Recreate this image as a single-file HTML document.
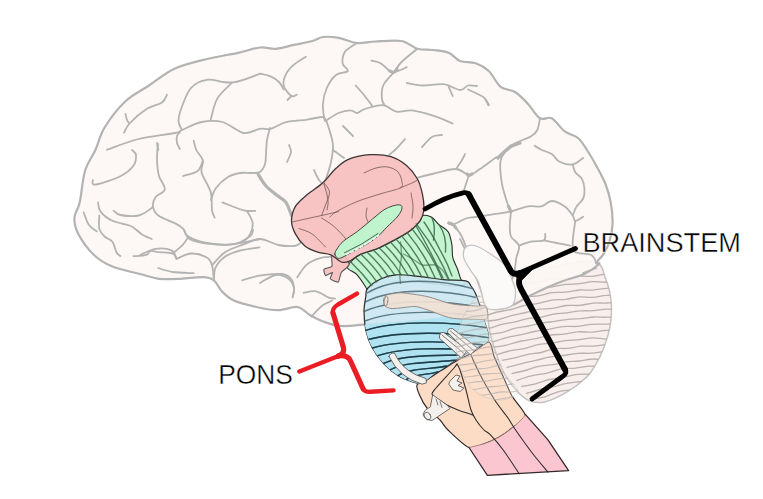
<!DOCTYPE html>
<html lang="en"><head><meta charset="utf-8"><title>Brainstem and Pons</title>
<style>
html,body{margin:0;padding:0;background:#fff;}
body{width:763px;height:499px;overflow:hidden;font-family:"Liberation Sans",sans-serif;}
svg{display:block}
</style></head><body>
<svg width="763" height="499" viewBox="0 0 763 499">
<rect width="763" height="499" fill="#fff"/>
<defs><clipPath id="cbclip"><path d="M599.0 264.0C603.2 266.5 603.2 272.5 605.0 277.0C606.8 281.5 608.4 285.9 609.5 291.0C610.6 296.1 611.4 301.5 611.5 307.4C611.6 313.3 611.2 320.2 610.0 326.6C608.8 333.0 606.8 339.7 604.5 345.9C602.2 352.1 599.0 358.8 596.0 364.0C593.0 369.2 591.8 372.2 586.8 377.0C581.8 381.8 572.8 388.6 565.8 392.7C558.8 396.8 550.9 400.6 544.8 401.9C538.7 403.2 533.8 402.6 529.0 400.6C524.2 398.6 520.3 394.8 516.0 390.0C511.7 385.2 506.5 378.2 503.0 371.7C499.5 365.2 497.2 357.4 495.0 350.8C492.8 344.2 491.3 339.6 489.8 332.4C488.3 325.2 487.6 314.5 486.0 307.4C484.4 300.3 477.7 294.6 480.0 290.0C482.3 285.4 490.0 283.3 500.0 280.0C510.0 276.7 526.7 273.0 540.0 270.0C553.3 267.0 570.2 263.0 580.0 262.0C589.8 261.0 594.8 261.5 599.0 264.0Z"/></clipPath></defs><g id="cerebellum"><path d="M599.0 264.0C603.2 266.5 603.2 272.5 605.0 277.0C606.8 281.5 608.4 285.9 609.5 291.0C610.6 296.1 611.4 301.5 611.5 307.4C611.6 313.3 611.2 320.2 610.0 326.6C608.8 333.0 606.8 339.7 604.5 345.9C602.2 352.1 599.0 358.8 596.0 364.0C593.0 369.2 591.8 372.2 586.8 377.0C581.8 381.8 572.8 388.6 565.8 392.7C558.8 396.8 550.9 400.6 544.8 401.9C538.7 403.2 533.8 402.6 529.0 400.6C524.2 398.6 520.3 394.8 516.0 390.0C511.7 385.2 506.5 378.2 503.0 371.7C499.5 365.2 497.2 357.4 495.0 350.8C492.8 344.2 491.3 339.6 489.8 332.4C488.3 325.2 487.6 314.5 486.0 307.4C484.4 300.3 477.7 294.6 480.0 290.0C482.3 285.4 490.0 283.3 500.0 280.0C510.0 276.7 526.7 273.0 540.0 270.0C553.3 267.0 570.2 263.0 580.0 262.0C589.8 261.0 594.8 261.5 599.0 264.0Z" fill="#f8eeeb" stroke="#c2c2c2" stroke-width="1.5"/><g fill="none" stroke="#b9b1ae" stroke-width="1.3" clip-path="url(#cbclip)"><path d="M470.0 295.5C472.3 295.1 479.1 294.2 483.6 293.2C488.2 292.2 492.7 290.5 497.3 289.5C501.8 288.4 506.4 288.0 510.9 287.0C515.5 286.0 520.0 284.3 524.5 283.5C529.1 282.6 533.6 282.8 538.2 282.1C542.7 281.3 547.3 279.5 551.8 278.8C556.4 278.2 560.9 278.8 565.5 278.4C570.0 277.9 574.5 276.6 579.1 276.3C583.6 275.9 588.2 276.6 592.7 276.3C597.3 275.9 601.8 274.3 606.4 274.0C610.9 273.6 617.7 274.2 620.0 274.3"/><path d="M470.0 302.6C472.3 302.0 479.1 300.1 483.6 299.1C488.2 298.1 492.7 297.9 497.3 296.8C501.8 295.7 506.4 293.3 510.9 292.4C515.5 291.6 520.0 292.2 524.5 291.5C529.1 290.8 533.6 289.0 538.2 288.2C542.7 287.5 547.3 287.6 551.8 286.9C556.4 286.3 560.9 285.0 565.5 284.4C570.0 283.9 574.5 284.2 579.1 283.7C583.6 283.2 588.2 282.0 592.7 281.7C597.3 281.5 601.8 282.5 606.4 282.2C610.9 282.0 617.7 280.6 620.0 280.3"/><path d="M470.0 308.3C472.3 307.9 479.1 307.1 483.6 306.1C488.2 305.0 492.7 302.9 497.3 302.0C501.8 301.0 506.4 301.2 510.9 300.3C515.5 299.5 520.0 297.6 524.5 296.8C529.1 296.1 533.6 296.5 538.2 295.8C542.7 295.1 547.3 293.3 551.8 292.7C556.4 292.2 560.9 292.7 565.5 292.2C570.0 291.8 574.5 290.4 579.1 290.0C583.6 289.6 588.2 290.4 592.7 290.1C597.3 289.8 601.8 288.6 606.4 288.3C610.9 288.0 617.7 288.4 620.0 288.4"/><path d="M483.6 316.3C485.9 315.6 492.7 313.2 497.3 312.0C501.8 310.9 506.4 310.6 510.9 309.5C515.5 308.4 520.0 306.5 524.6 305.5C529.1 304.5 533.6 304.3 538.2 303.4C542.7 302.5 547.3 300.9 551.8 300.2C556.4 299.5 560.9 299.9 565.5 299.4C570.0 298.8 574.6 297.2 579.1 296.9C583.6 296.6 588.2 297.6 592.7 297.3C597.3 297.1 601.8 295.6 606.4 295.4C610.9 295.1 617.7 295.9 620.0 296.0"/><path d="M485.6 321.5C487.8 321.1 494.6 320.5 499.0 319.5C503.5 318.4 508.0 316.4 512.5 315.3C517.0 314.1 521.4 313.5 525.9 312.5C530.4 311.5 534.9 309.9 539.4 309.2C543.8 308.5 548.3 309.1 552.8 308.4C557.3 307.8 561.8 306.0 566.2 305.5C570.7 304.9 575.2 305.8 579.7 305.4C584.2 305.0 588.6 303.5 593.1 303.1C597.6 302.7 602.1 303.2 606.6 303.0C611.0 302.8 617.8 302.2 620.0 302.0"/><path d="M487.6 329.2C489.8 328.4 496.4 325.7 500.8 324.6C505.2 323.4 509.6 323.2 514.0 322.2C518.5 321.2 522.9 319.3 527.3 318.6C531.7 317.8 536.1 318.1 540.5 317.4C544.9 316.7 549.4 315.0 553.8 314.2C558.2 313.5 562.6 313.5 567.0 312.9C571.4 312.4 575.9 311.2 580.3 310.9C584.7 310.5 589.1 311.0 593.5 310.7C597.9 310.4 602.3 309.2 606.8 309.1C611.2 309.0 617.8 310.0 620.0 310.1"/><path d="M489.5 334.3C491.7 334.0 498.2 333.3 502.6 332.3C506.9 331.2 511.2 329.2 515.6 328.2C520.0 327.1 524.3 326.9 528.6 326.0C533.0 325.2 537.4 323.8 541.7 323.1C546.1 322.3 550.4 322.0 554.8 321.4C559.1 320.8 563.4 319.8 567.8 319.3C572.1 318.8 576.5 318.9 580.9 318.6C585.2 318.2 589.5 317.3 593.9 317.0C598.2 316.8 602.6 317.4 607.0 317.2C611.3 317.0 617.8 316.1 620.0 315.9"/><path d="M491.4 342.3C493.8 341.6 501.0 339.0 505.7 337.8C510.5 336.5 515.3 336.0 520.0 334.9C524.8 333.9 529.5 332.4 534.3 331.5C539.1 330.6 543.8 330.1 548.6 329.3C553.3 328.5 558.1 327.1 562.9 326.6C567.6 326.1 572.4 326.8 577.1 326.4C581.9 326.0 586.7 324.7 591.4 324.3C596.2 324.0 601.0 324.3 605.7 324.2C610.5 324.0 617.6 323.6 620.0 323.5"/><path d="M493.4 347.3C495.7 346.9 502.8 345.8 507.5 344.8C512.2 343.7 516.8 342.1 521.5 341.0C526.2 340.0 530.9 339.6 535.6 338.6C540.3 337.7 545.0 336.0 549.7 335.3C554.4 334.5 559.0 334.6 563.7 334.1C568.4 333.5 573.1 332.1 577.8 331.8C582.5 331.5 587.2 332.4 591.9 332.2C596.6 331.9 601.2 330.6 605.9 330.4C610.6 330.3 617.7 331.1 620.0 331.2"/><path d="M496.9 354.8C499.2 354.1 506.0 351.6 510.6 350.6C515.1 349.6 519.7 349.7 524.2 348.7C528.8 347.7 533.4 345.5 537.9 344.6C542.5 343.6 547.0 343.8 551.6 343.1C556.2 342.5 560.7 341.2 565.3 340.6C569.8 340.0 574.4 340.1 579.0 339.6C583.5 339.2 588.1 338.0 592.6 337.9C597.2 337.7 601.8 338.9 606.3 338.9C610.9 338.8 617.7 337.8 620.0 337.6"/><path d="M501.8 360.3C503.9 359.9 510.5 358.9 514.9 357.9C519.3 356.9 523.6 355.2 528.0 354.3C532.4 353.4 536.8 353.4 541.2 352.5C545.5 351.6 549.9 349.4 554.3 348.7C558.7 348.0 563.1 348.8 567.4 348.4C571.8 348.0 576.2 346.6 580.6 346.2C585.0 345.8 589.3 346.3 593.7 346.1C598.1 345.8 602.5 344.8 606.9 344.6C611.2 344.4 617.8 344.9 620.0 345.0"/><path d="M506.6 367.6C509.0 366.9 516.1 364.9 520.8 363.8C525.5 362.6 530.2 361.8 535.0 360.7C539.7 359.6 544.4 358.1 549.1 357.2C553.9 356.4 558.6 356.1 563.3 355.5C568.0 354.8 572.8 353.8 577.5 353.4C582.2 353.0 586.9 353.5 591.7 353.2C596.4 352.9 601.1 351.7 605.8 351.5C610.6 351.4 617.6 352.0 620.0 352.1"/><path d="M511.5 373.7C513.8 373.2 520.5 371.7 525.1 370.5C529.6 369.3 534.1 367.4 538.6 366.4C543.1 365.4 547.7 365.5 552.2 364.7C556.7 364.0 561.2 362.5 565.8 361.8C570.3 361.2 574.8 361.5 579.3 361.0C583.8 360.5 588.4 359.1 592.9 359.0C597.4 358.8 601.9 360.1 606.4 360.0C611.0 359.9 617.7 358.6 620.0 358.3"/><path d="M516.4 380.6C518.8 379.8 526.2 377.1 531.2 375.9C536.1 374.6 541.0 374.4 546.0 373.3C550.9 372.2 555.9 370.0 560.8 369.1C565.7 368.3 570.7 368.6 575.6 368.1C580.5 367.6 585.5 366.4 590.4 366.1C595.3 365.9 600.3 366.8 605.2 366.7C610.1 366.6 617.5 365.6 620.0 365.4"/><path d="M521.2 386.4C523.6 386.0 530.7 385.0 535.4 383.8C540.1 382.7 544.8 380.6 549.5 379.5C554.2 378.4 558.9 378.1 563.6 377.3C568.3 376.4 573.0 374.9 577.7 374.4C582.4 373.9 587.1 374.5 591.8 374.1C596.5 373.8 601.2 372.6 605.9 372.5C610.6 372.3 617.6 373.1 620.0 373.3"/><path d="M526.1 393.6C528.4 392.9 535.1 390.7 539.5 389.5C544.0 388.4 548.5 387.8 552.9 386.8C557.4 385.8 561.9 384.2 566.4 383.4C570.8 382.5 575.3 382.2 579.8 381.6C584.2 381.1 588.7 380.4 593.2 380.2C597.6 380.0 602.1 380.7 606.6 380.6C611.1 380.6 617.8 380.1 620.0 380.0"/><path d="M531.0 399.4C533.5 398.9 540.9 397.9 545.8 396.5C550.8 395.1 555.7 392.2 560.7 391.1C565.6 390.0 570.6 390.3 575.5 389.7C580.4 389.1 585.4 387.7 590.3 387.4C595.3 387.1 600.2 388.0 605.2 388.0C610.1 387.9 617.5 387.2 620.0 387.1"/><path d="M535.9 407.1C538.2 406.3 545.2 403.3 549.9 402.0C554.6 400.7 559.2 400.5 563.9 399.4C568.6 398.3 573.3 396.1 577.9 395.4C582.6 394.7 587.3 395.4 592.0 395.2C596.6 394.9 601.3 394.1 606.0 394.1C610.7 394.1 617.7 395.0 620.0 395.2"/><path d="M540.8 412.5C543.0 412.0 549.6 410.7 554.0 409.5C558.4 408.3 562.8 406.2 567.2 405.1C571.6 404.1 576.0 403.9 580.4 403.3C584.8 402.6 589.2 401.4 593.6 401.1C598.0 400.8 602.4 401.5 606.8 401.5C611.2 401.6 617.8 401.2 620.0 401.1"/><path d="M545.6 420.0C548.1 419.0 555.5 415.3 560.5 413.9C565.5 412.5 570.4 412.3 575.4 411.4C580.3 410.6 585.3 409.1 590.2 408.6C595.2 408.2 600.2 408.9 605.1 408.9C610.1 408.9 617.5 408.4 620.0 408.3"/></g></g>
<g id="cerebrum"><path d="M140.0 274.0C132.2 272.0 120.1 269.8 112.4 266.6C104.7 263.4 99.7 260.4 94.0 255.0C88.3 249.6 81.6 240.2 78.3 234.0C75.0 227.8 74.2 223.3 74.4 218.0C74.6 212.7 77.9 210.2 79.7 202.4C81.5 194.6 82.4 179.7 85.0 171.0C87.6 162.3 92.1 157.2 95.4 150.0C98.7 142.8 99.6 135.6 104.6 127.5C109.6 119.4 118.1 108.3 125.5 101.3C132.9 94.3 140.8 91.0 149.0 85.5C157.2 80.0 165.3 72.9 175.0 68.5C184.7 64.1 196.5 61.6 207.0 59.0C217.5 56.4 229.2 54.7 238.0 52.8C246.8 50.9 253.7 48.2 260.0 47.5C266.3 46.8 270.0 49.2 275.7 48.8C281.4 48.4 287.9 46.2 294.0 44.9C300.1 43.6 307.6 42.3 312.4 41.0C317.2 39.7 318.5 37.5 322.9 37.0C327.3 36.5 332.9 36.8 338.6 37.8C344.3 38.8 350.9 42.4 357.0 43.0C363.1 43.6 367.9 41.8 375.3 41.5C382.7 41.2 394.5 39.8 401.5 41.0C408.5 42.2 412.1 47.3 417.3 48.8C422.6 50.3 427.8 49.3 433.0 50.0C438.2 50.7 444.2 51.0 448.7 52.8C453.2 54.6 455.5 59.2 460.0 61.0C464.5 62.8 470.9 61.6 475.7 63.3C480.5 65.0 484.6 67.1 488.8 71.0C493.0 74.9 496.2 83.3 500.6 86.8C505.0 90.3 510.4 89.2 515.0 92.0C519.6 94.8 523.8 99.5 528.0 103.9C532.2 108.3 536.0 115.9 540.0 118.3C544.0 120.7 547.6 116.1 551.7 118.3C555.8 120.5 560.4 128.1 564.8 131.4C569.2 134.7 574.3 134.9 578.0 138.0C581.7 141.1 584.0 145.4 587.0 150.0C590.0 154.6 593.2 160.0 596.3 165.7C599.4 171.4 603.1 177.9 605.5 184.0C607.9 190.1 609.5 195.8 610.7 202.4C611.9 209.0 612.8 216.9 612.6 223.4C612.4 229.9 611.0 236.5 609.4 241.7C607.8 246.9 605.1 251.3 602.9 254.8C600.7 258.3 596.9 261.2 596.3 262.7C595.6 264.2 600.9 262.2 599.0 264.0C597.1 265.8 590.7 270.9 584.7 273.7C578.7 276.5 569.5 278.6 563.0 281.0C556.5 283.4 551.6 285.5 546.0 288.0C540.4 290.5 535.0 293.2 529.4 296.0C523.8 298.8 517.8 302.8 512.6 305.0C507.4 307.2 502.4 308.6 498.0 309.0C493.6 309.4 490.7 308.2 486.0 307.4C481.3 306.6 477.7 302.2 470.0 304.0C462.3 305.8 451.7 315.0 440.0 318.0C428.3 321.0 412.2 320.9 400.0 322.0C387.8 323.1 376.3 323.7 366.5 324.4C356.7 325.1 348.7 326.5 341.3 326.0C333.9 325.5 327.6 323.0 322.4 321.2C317.2 319.4 314.1 317.4 309.9 315.0C305.7 312.6 302.6 307.8 297.3 307.0C292.1 306.2 285.2 310.2 278.4 310.2C271.6 310.2 263.7 308.6 256.4 307.0C249.1 305.4 240.2 303.4 234.4 300.8C228.6 298.2 225.2 294.7 221.8 291.3C218.4 287.9 217.1 282.7 213.9 280.3C210.8 277.9 208.4 277.4 202.9 277.2C197.4 276.9 188.2 278.5 180.9 278.8C173.6 279.1 165.7 279.6 158.9 278.8C152.1 278.0 147.8 276.0 140.0 274.0Z" fill="#fdf8f4" fill-opacity="0.93" stroke="#b3b3b3" stroke-width="2.2" stroke-linejoin="round"/><g fill="none" stroke="#b3b3b3" stroke-width="1.8" stroke-linecap="round" stroke-linejoin="round"><path d="M124.0 132.7C124.9 131.2 125.8 127.5 129.5 123.5C133.2 119.5 141.1 112.5 146.5 109.0C151.9 105.5 158.6 104.9 162.0 102.5C165.4 100.1 166.2 96.0 167.0 94.7"/><path d="M125.5 114.0C125.8 115.0 126.3 118.4 127.0 120.0C127.7 121.6 129.1 122.9 129.5 123.5"/><path d="M260.0 73.7C255.5 75.2 241.9 81.4 233.0 82.4C224.1 83.4 213.8 78.9 206.8 79.8C199.8 80.7 195.1 83.5 191.0 88.0C186.9 92.5 184.1 101.0 182.0 106.5C179.9 112.0 178.5 117.1 178.5 121.0C178.5 124.9 181.4 128.5 182.0 130.0"/><path d="M231.7 83.0C229.3 85.6 220.8 92.5 217.3 98.6C213.8 104.7 211.8 116.1 210.7 119.6"/><path d="M107.0 149.7C112.3 147.9 127.3 141.8 138.6 139.0C149.9 136.2 167.8 134.5 175.0 133.0C182.2 131.5 177.6 131.8 182.0 130.0C186.4 128.2 194.8 123.3 201.5 122.0C208.2 120.7 215.5 120.2 222.5 122.0C229.5 123.8 237.2 131.9 243.5 133.0C249.8 134.1 255.5 129.5 260.0 128.8C264.5 128.1 266.1 129.9 270.5 128.8C274.9 127.7 280.1 123.7 286.2 122.2C292.3 120.7 301.1 120.5 307.2 119.6C313.3 118.7 319.8 116.8 322.9 117.0C325.9 117.2 325.1 120.3 325.5 121.0"/><path d="M180.0 132.0C179.5 132.7 177.5 134.2 177.0 136.0C176.5 137.8 176.5 140.8 177.0 143.0C177.5 145.2 179.5 148.0 180.0 149.0"/><path d="M158.0 144.0C157.8 146.7 156.8 154.7 157.0 160.0C157.2 165.3 157.7 171.1 159.0 176.0C160.3 180.9 165.4 185.8 164.8 189.3C164.2 192.8 157.7 194.2 155.7 197.0C153.7 199.8 152.6 203.3 153.0 206.4C153.4 209.5 154.6 212.7 158.3 215.5C162.0 218.3 171.2 221.2 175.3 223.4C179.4 225.6 180.8 226.4 183.0 228.6C185.2 230.8 184.4 234.1 188.4 236.5C192.4 238.9 199.8 241.7 206.8 243.0C213.8 244.3 221.5 245.1 230.4 244.4C239.3 243.7 255.1 239.9 260.0 239.0"/><path d="M193.7 140.6C194.1 142.2 194.8 146.7 196.3 150.0C197.8 153.3 202.0 156.8 202.9 160.5C203.8 164.2 200.2 167.1 201.5 172.3C202.8 177.6 208.9 185.7 210.7 192.0C212.4 198.3 211.3 206.0 212.0 210.3C212.7 214.6 214.2 216.4 214.7 217.6"/><path d="M202.9 160.5C202.0 162.2 200.9 168.4 197.6 171.0C194.3 173.6 185.4 175.2 183.0 176.0"/><path d="M157.0 143.0L158.3 150.0"/><path d="M92.8 180.0C93.2 180.8 90.8 185.2 95.4 184.6C100.0 184.0 114.0 179.3 120.3 176.2C126.6 173.0 130.8 169.2 133.4 165.7C136.0 162.2 136.2 157.6 136.0 155.0C135.8 152.4 132.7 150.8 132.0 150.0"/><path d="M211.0 200.0C211.8 198.0 213.2 191.8 216.0 188.0C218.8 184.2 224.0 179.5 228.0 177.0C232.0 174.5 236.0 173.7 240.0 173.0C244.0 172.3 248.7 173.2 252.0 173.0C255.3 172.8 257.8 173.5 260.0 172.0C262.2 170.5 264.0 167.0 265.0 164.0C266.0 161.0 265.7 158.0 266.0 154.0C266.3 150.0 266.3 144.3 267.0 140.0C267.7 135.7 269.5 130.0 270.0 128.0"/><path d="M222.5 202.4C226.0 203.7 238.0 208.9 243.5 210.3C249.0 211.7 253.3 210.7 255.3 210.8"/><path d="M247.4 211.6C248.3 213.6 252.5 219.2 252.7 223.4C252.9 227.6 250.8 233.2 248.7 236.5C246.6 239.8 241.4 241.9 240.0 243.0"/><path d="M98.0 202.4C98.4 203.9 98.2 208.5 100.6 211.6C103.0 214.7 107.4 218.4 112.4 220.8C117.4 223.2 126.0 223.8 130.8 226.0C135.6 228.2 137.8 231.7 141.3 233.9C144.8 236.1 150.0 238.2 151.7 239.0"/><path d="M113.7 210.8C114.8 211.5 116.2 214.2 120.3 215.0C124.4 215.8 133.6 216.5 138.6 215.5C143.6 214.5 148.0 210.5 150.4 209.0C152.8 207.5 152.6 206.8 153.0 206.4"/><path d="M83.6 212.4C84.5 214.4 86.6 221.5 88.8 224.7C91.0 227.8 95.4 230.2 96.7 231.3"/><path d="M99.3 215.5C99.3 217.7 98.4 225.1 99.3 228.6C100.2 232.1 102.4 234.3 104.6 236.5C106.8 238.7 110.4 239.1 112.4 241.7C114.4 244.3 115.1 249.8 116.4 252.2C117.7 254.6 119.7 255.4 120.3 256.0"/><path d="M133.4 256.2C135.6 256.0 143.7 255.7 146.5 254.8C149.3 253.9 148.2 251.4 150.4 251.0C152.6 250.6 155.9 251.8 159.6 252.2C163.3 252.6 169.9 252.4 172.7 253.5C175.5 254.6 175.9 257.9 176.6 258.8"/><path d="M172.7 253.5C174.4 252.0 180.6 247.2 183.2 244.4C185.8 241.6 187.5 237.8 188.4 236.5"/><path d="M176.6 258.8C179.0 257.9 186.0 253.7 191.0 253.5C196.0 253.3 203.3 255.5 206.8 257.5C210.3 259.5 210.8 261.5 212.0 265.3C213.2 269.1 213.6 277.8 213.9 280.3"/><path d="M212.0 265.3C214.2 263.1 219.8 255.7 225.0 252.2C230.2 248.7 237.7 246.6 243.5 244.4C249.3 242.2 254.2 238.9 260.0 239.0C265.8 239.1 272.7 243.8 278.4 245.0C284.1 246.2 290.4 246.3 294.1 246.0C297.8 245.7 299.3 243.5 300.4 243.0"/><path d="M158.3 268.0C160.7 268.7 166.8 271.1 172.7 272.0C178.6 272.9 190.2 273.0 193.7 273.2"/><path d="M357.0 43.0C355.0 44.4 347.6 48.1 345.2 51.5C342.8 54.9 342.2 60.0 342.6 63.3C343.0 66.5 348.9 69.0 347.8 71.0C346.7 73.0 339.5 72.2 336.0 75.0C332.5 77.8 329.0 83.2 326.8 88.0C324.6 92.8 323.3 98.9 322.9 103.9C322.5 109.0 323.8 115.5 324.2 118.3C324.6 121.1 325.3 120.5 325.5 121.0"/><path d="M305.9 56.7C303.9 58.0 297.3 61.8 294.0 64.6C290.7 67.4 287.9 70.2 286.2 73.7C284.5 77.2 282.7 81.8 283.6 85.5C284.5 89.2 289.3 94.5 291.5 96.0C293.7 97.5 295.8 94.9 296.7 94.7"/><path d="M291.5 96.0L287.5 100.0"/><path d="M260.0 73.7C261.8 74.2 267.3 75.0 270.5 76.4C273.7 77.8 276.8 79.8 279.0 82.0C281.2 84.2 282.8 88.2 283.6 89.5"/><path d="M417.3 48.8C414.7 51.0 405.4 58.1 401.5 62.0C397.6 65.9 396.8 68.5 393.7 72.4C390.6 76.3 385.2 81.1 383.2 85.5C381.2 89.9 381.7 95.3 381.9 98.6C382.1 101.9 384.1 104.1 384.5 105.2"/><path d="M371.4 60.6C372.9 61.0 377.6 61.6 380.6 63.3C383.7 65.0 387.5 69.5 389.7 71.0C391.9 72.5 390.8 73.0 393.7 72.4C396.6 71.8 404.6 68.1 406.8 67.2"/><path d="M355.7 85.5C357.2 87.2 362.0 92.5 364.8 96.0C367.6 99.5 371.4 104.8 372.7 106.5"/><path d="M325.5 121.0C327.7 119.7 334.5 114.8 338.6 113.0C342.8 111.2 347.3 110.4 350.4 110.4C353.5 110.4 354.6 113.2 357.0 113.0C359.4 112.8 360.4 110.3 364.8 109.0C369.2 107.7 377.9 104.8 383.2 105.2C388.4 105.7 391.5 110.8 396.3 111.7C401.1 112.6 405.9 109.7 412.0 110.4C418.1 111.1 426.2 113.5 433.0 115.7C439.8 117.9 449.4 122.2 452.7 123.5"/><path d="M406.8 83.0C409.4 83.4 416.4 85.3 422.5 85.5C428.6 85.7 437.2 83.5 443.5 84.2C449.8 85.0 455.9 89.8 460.0 90.0C464.1 90.2 465.1 86.2 467.9 85.5C470.7 84.8 475.5 85.9 477.0 86.0"/><path d="M448.7 86.8L452.7 96.0"/><path d="M468.0 89.5C470.6 90.8 480.2 94.7 483.6 97.3C487.0 99.9 487.5 103.9 488.3 105.2"/><path d="M326.0 120.0C326.7 122.0 328.8 127.7 330.0 132.0C331.2 136.3 332.8 141.0 333.0 146.0C333.2 151.0 332.0 157.0 331.0 162.0C330.0 167.0 328.2 172.3 327.0 176.0C325.8 179.7 324.5 182.7 324.0 184.0"/><path d="M333.0 150.0L344.0 158.0"/><path d="M314.0 170.0C314.8 171.7 317.0 177.0 319.0 180.0C321.0 183.0 324.5 184.7 326.0 188.0C327.5 191.3 327.7 198.0 328.0 200.0"/><path d="M343.0 126.0L353.0 136.0"/><path d="M405.0 139.0C403.5 140.7 398.7 146.3 396.0 149.0C393.3 151.7 390.2 154.0 389.0 155.0"/><path d="M442.0 135.0C440.3 135.3 435.3 135.0 432.0 137.0C428.7 139.0 423.7 145.3 422.0 147.0"/><path d="M289.0 145.0C289.3 146.2 291.3 149.2 291.0 152.0C290.7 154.8 287.7 160.3 287.0 162.0"/><path d="M540.0 118.3C539.5 120.2 538.8 127.0 537.3 130.0C535.8 133.1 534.5 134.4 530.8 136.6C527.1 138.8 518.9 141.0 515.0 143.2C511.1 145.4 509.6 146.8 507.2 149.7C504.8 152.6 501.5 154.8 500.6 160.5C499.7 166.2 500.7 176.3 502.0 184.0C503.3 191.7 507.0 201.8 508.5 206.4C510.0 211.0 510.6 210.7 511.0 211.6"/><path d="M534.7 145.8C535.8 146.5 538.5 148.3 541.3 149.7C544.1 151.1 548.7 152.0 551.7 154.0C554.8 156.0 556.1 160.1 559.6 161.8C563.1 163.5 568.8 165.1 572.7 164.4C576.6 163.8 581.5 159.0 583.2 157.9"/><path d="M572.7 164.4C573.1 165.7 573.8 169.9 575.3 172.3C576.8 174.7 580.4 176.0 581.9 178.8C583.4 181.6 584.3 186.0 584.5 189.3C584.7 192.6 584.5 195.7 583.2 198.5C581.9 201.3 578.4 203.6 576.6 206.4C574.9 209.2 573.4 214.0 572.7 215.5"/><path d="M500.0 157.0C499.3 157.1 499.3 155.5 496.0 157.5C492.7 159.5 484.5 166.1 480.0 169.0C475.5 171.9 473.0 175.0 469.0 175.0C465.0 175.0 462.2 169.2 456.0 169.0C449.8 168.8 438.7 172.5 432.0 174.0C425.3 175.5 418.7 177.3 416.0 178.0"/><path d="M456.0 169.0C457.0 167.5 460.5 162.5 462.0 160.0C463.5 157.5 464.5 155.0 465.0 154.0"/><path d="M486.0 100.0L489.0 105.0"/><path d="M469.0 175.0C468.5 176.5 466.8 181.5 466.0 184.0C465.2 186.5 464.3 189.0 464.0 190.0"/><path d="M511.0 211.6C508.2 212.0 499.9 213.3 494.0 214.2C488.1 215.1 480.4 216.3 475.7 217.0C471.0 217.7 469.8 217.2 466.0 218.5C462.2 219.8 456.0 223.8 453.0 224.5C450.0 225.2 448.8 223.2 448.0 223.0"/><path d="M453.0 224.5C454.3 226.2 458.8 231.2 461.0 235.0C463.2 238.8 465.2 245.0 466.0 247.0"/><path d="M511.0 211.6C513.8 210.7 523.0 207.3 528.0 206.4C533.0 205.5 537.3 207.3 541.3 206.4C545.2 205.5 547.8 201.0 551.7 201.0C555.6 201.0 561.3 204.0 564.8 206.4C568.3 208.8 571.0 213.1 572.7 215.5C574.5 217.9 573.5 220.6 575.3 220.8C577.0 221.0 581.9 217.5 583.2 216.8"/><path d="M511.0 211.6C510.8 214.0 509.8 221.8 509.8 226.0C509.8 230.2 509.5 233.2 511.0 236.5C512.5 239.8 518.1 242.2 519.0 245.7C519.9 249.2 517.1 253.8 516.4 257.5C515.7 261.2 515.7 264.2 515.0 268.0C514.3 271.8 512.5 278.0 512.0 280.0"/><path d="M519.0 245.7C521.0 245.0 526.6 242.6 530.8 241.7C534.9 240.8 541.5 241.7 543.9 240.4C546.3 239.1 545.0 235.0 545.2 233.9"/><path d="M543.9 240.4C546.1 240.8 552.6 242.1 557.0 243.0C561.4 243.9 567.8 245.2 570.0 245.7"/><path d="M575.3 220.8C574.9 224.3 572.8 236.5 572.7 241.7C572.7 246.9 572.0 249.8 575.0 252.0C578.0 254.2 587.5 253.0 591.0 254.8C594.5 256.6 595.4 261.4 596.3 262.7"/><path d="M460.0 239.0C460.9 240.8 463.4 245.7 465.2 249.6C466.9 253.5 468.3 257.0 470.5 262.7C472.7 268.4 475.9 276.9 478.6 284.0C481.3 291.1 485.2 301.5 486.5 305.0"/><path d="M583.0 273.0L596.0 268.0"/><path d="M140.0 255.0C142.6 254.0 150.4 249.7 155.7 248.9C160.9 248.1 168.1 248.8 171.5 250.4C174.9 252.0 175.4 257.0 176.2 258.3"/><path d="M184.0 230.0C185.1 231.6 185.6 237.0 190.3 239.4C195.0 241.8 205.0 243.4 212.3 244.2C219.7 245.0 228.1 245.5 234.4 244.2C240.7 242.9 246.9 238.7 250.0 236.3C253.1 233.9 252.7 231.1 253.2 230.0"/><path d="M242.2 280.3C245.1 279.5 252.9 276.7 259.5 275.6C266.1 274.6 276.2 273.5 281.5 274.0C286.8 274.5 288.9 276.4 291.0 278.8C293.1 281.2 293.8 285.1 294.1 288.2C294.4 291.3 292.9 296.0 292.6 297.6"/><path d="M297.3 277.2C298.9 275.1 303.0 267.8 306.7 264.6C310.4 261.5 315.1 259.6 319.3 258.3C323.5 257.0 329.9 257.0 332.0 256.7"/><path d="M303.6 292.9C305.7 292.6 312.0 290.5 316.2 291.3C320.4 292.1 325.6 296.4 328.7 297.6C331.8 298.8 333.9 298.4 335.0 298.6"/><path d="M311.4 316.5C313.2 314.7 319.0 308.1 322.4 305.5C325.8 302.9 330.3 301.6 331.9 300.8"/><path d="M213.9 280.3C214.2 278.2 213.7 271.6 215.5 267.7C217.3 263.8 220.7 259.6 224.9 256.7C229.1 253.8 234.9 252.0 240.7 250.4C246.5 248.8 256.4 247.8 259.5 247.3"/><path d="M260.0 283.0C262.6 281.7 270.9 275.7 275.7 275.0C280.5 274.3 285.8 276.8 288.8 279.0C291.9 281.2 293.3 285.4 294.0 288.3C294.7 291.2 293.0 294.9 292.8 296.2"/></g><path d="M466.0 247.0C463.9 248.8 463.0 253.3 463.6 257.0C464.2 260.7 467.3 265.0 469.7 269.0C472.1 273.0 476.0 277.0 478.0 281.0C480.0 285.0 480.4 288.6 481.7 293.0C483.0 297.4 483.3 304.6 486.0 307.4C488.7 310.1 493.6 309.9 498.0 309.5C502.4 309.1 509.7 308.1 512.6 305.0C515.5 301.9 515.6 295.2 515.5 291.0C515.4 286.8 513.6 283.9 512.0 279.7C510.4 275.5 509.3 270.1 506.0 266.0C502.7 261.9 497.0 258.3 492.0 255.0C487.0 251.7 480.3 247.3 476.0 246.0C471.7 244.7 468.1 245.2 466.0 247.0Z" fill="#fcfaf9" stroke="#c4c4c4" stroke-width="1.3"/><g fill="none" stroke="#b3b3b3" stroke-width="3.2" stroke-linecap="round"><path d="M389.7 71.0C390.4 71.2 392.5 72.7 393.7 72.4C394.9 72.1 396.4 69.6 397.0 69.0"/><path d="M467.0 174.0C467.3 174.2 468.2 175.5 469.0 175.5C469.8 175.5 471.5 174.2 472.0 174.0"/><path d="M449.0 223.0C449.7 223.2 451.8 223.7 453.0 224.5C454.2 225.3 455.5 227.4 456.0 228.0"/><path d="M258.0 174.0C259.3 176.0 262.7 182.3 266.0 186.0C269.3 189.7 274.7 193.3 278.0 196.0C281.3 198.7 283.8 199.2 286.0 202.4C288.2 205.7 290.6 213.3 291.5 215.5"/><path d="M498.0 158.0C498.7 157.3 500.0 155.8 502.0 154.0C504.0 152.2 507.0 148.8 510.0 147.0C513.0 145.2 518.3 143.7 520.0 143.0"/><path d="M507.2 149.7L511.0 146.0"/><path d="M508.5 206.4L511.0 211.6"/></g></g>
<g id="brainstem" stroke-linejoin="round" stroke-linecap="round"><path d="M417.0 385.0C418.0 382.7 424.6 380.9 427.8 379.0C431.0 377.1 437.0 373.1 441.0 370.6C445.0 368.1 453.7 362.5 458.0 360.0C462.3 357.5 469.3 354.4 473.4 352.0C477.5 349.6 486.3 341.5 489.0 342.0C491.7 342.5 492.3 351.7 494.0 356.0C495.7 360.3 499.6 368.7 502.0 374.0C504.4 379.3 508.9 390.4 512.0 396.0C515.1 401.6 525.4 411.8 525.5 416.0C525.6 420.2 515.9 425.0 512.4 427.8C508.9 430.6 503.0 434.9 499.3 437.0C495.6 439.1 488.8 442.1 484.8 443.5C480.8 444.9 473.9 449.3 469.0 447.5C464.1 445.7 451.9 433.7 448.0 430.0C444.1 426.3 442.8 422.9 440.0 420.0C437.2 417.1 429.7 411.2 427.0 408.0C424.3 404.8 421.3 399.1 420.0 396.0C418.7 392.9 416.0 387.3 417.0 385.0Z" fill="#fcdcc4" stroke="#33282a" stroke-width="1.2"/><path d="M469.0 447.5C471.4 446.9 480.3 445.1 484.8 443.5C489.3 441.9 495.2 439.4 499.3 437.0C503.4 434.6 509.0 430.5 512.4 427.8C515.8 425.1 520.0 421.0 522.0 419.0C524.0 417.0 525.0 415.3 525.5 414.6L547.8 439.6L568.6 470.6L487.4 475.3Z" fill="#fcc6d1"/><path d="M469.0 447.5C471.4 446.9 480.3 445.1 484.8 443.5C489.3 441.9 495.2 439.4 499.3 437.0C503.4 434.6 509.0 430.5 512.4 427.8C515.8 425.1 520.0 421.0 522.0 419.0C524.0 417.0 525.0 415.3 525.5 414.6" fill="none" stroke="#a07f70" stroke-width="0.9"/><path d="M469 447.5L487.4 475.3L568.6 470.6L547.8 439.6L525.5 414.6" fill="none" stroke="#33282a" stroke-width="1.3"/><path d="M347.3 266.9C347.8 263.7 354.5 257.9 359.6 254.8C364.7 251.7 371.9 250.9 378.0 248.3C384.1 245.7 391.1 241.8 396.3 239.0C401.5 236.2 405.4 234.3 409.4 231.3C413.3 228.3 417.8 223.4 420.0 220.8C422.2 218.2 420.7 216.1 422.6 215.5C424.6 214.9 429.0 215.8 431.7 217.3C434.4 218.8 436.2 222.2 439.0 224.7C441.8 227.1 446.2 228.6 448.3 232.0C450.4 235.4 451.1 240.6 451.9 244.9C452.6 249.2 451.9 253.7 452.8 257.7C453.7 261.7 456.0 265.1 457.4 268.7C458.8 272.3 459.6 276.9 461.0 279.5C462.4 282.1 467.2 282.9 466.0 284.0C464.8 285.1 458.9 286.0 453.8 286.0C448.7 286.0 441.5 284.7 435.4 284.0C429.3 283.3 422.8 282.5 417.0 282.0C411.2 281.5 405.4 280.7 400.5 281.0C395.6 281.3 391.7 282.7 387.7 284.0C383.7 285.3 379.8 287.5 376.7 289.0C373.6 290.5 370.8 293.3 369.0 293.0C367.2 292.7 367.8 290.1 365.7 287.0C363.6 283.9 359.6 277.6 356.5 274.2C353.4 270.8 346.8 270.1 347.3 266.9Z" fill="#c0f4cc" fill-opacity="0.92" stroke="#2a2a2a" stroke-width="1.1"/><path d="M367.5 288.5C370.0 285.6 375.9 281.3 380.7 279.0C385.4 276.7 389.8 275.2 396.0 274.8C402.2 274.4 410.1 275.5 418.0 276.3C425.9 277.1 435.7 278.9 443.7 279.7C451.7 280.4 461.2 279.8 465.8 280.8C470.4 281.9 469.4 284.0 471.0 286.0C472.6 288.0 473.8 289.7 475.3 293.0C476.8 296.3 478.4 301.0 480.0 306.0C481.6 311.0 483.6 318.2 485.0 323.0C486.4 327.8 488.1 331.8 488.5 335.0C488.9 338.2 489.1 340.2 487.3 342.2C485.5 344.2 482.1 344.6 477.7 347.0C473.3 349.4 466.0 353.4 460.8 356.6C455.6 359.8 451.2 363.0 446.4 366.2C441.6 369.4 436.0 373.0 432.0 375.8C428.0 378.6 425.6 382.0 422.4 383.0C419.2 384.0 416.7 383.1 412.7 381.9C408.7 380.7 403.1 378.8 398.3 375.8C393.5 372.8 388.3 368.6 383.9 363.8C379.5 359.0 374.8 352.6 371.8 347.0C368.8 341.4 367.1 336.0 365.8 330.0C364.5 324.0 364.0 316.5 364.0 310.9C364.0 305.3 365.2 300.2 365.8 296.5C366.4 292.8 365.0 291.4 367.5 288.5Z" fill="#cbe6f1" fill-opacity="0.92" stroke="#2a2a2a" stroke-width="1.2"/><path d="M332.0 256.0C333.1 254.8 341.3 253.1 343.0 254.0C344.7 254.9 349.4 262.8 349.2 264.6C349.0 266.5 342.4 270.8 341.3 272.5C340.2 274.2 339.3 281.4 338.2 282.0C337.1 282.6 330.9 279.8 330.3 278.8C329.7 277.9 333.0 272.8 332.5 272.5C332.0 272.2 326.5 275.9 325.6 275.6C324.8 275.3 323.4 270.2 324.0 269.3C324.6 268.4 331.1 267.5 331.9 266.2C332.7 264.9 330.9 257.2 332.0 256.0Z" fill="#f6bcbc" fill-opacity="0.88" stroke="#555" stroke-width="1.1"/><path d="M291.5 220.8C291.5 216.2 292.8 210.8 295.4 206.4C298.0 202.0 302.6 198.5 307.2 194.6C311.8 190.7 318.1 187.2 322.9 182.8C327.7 178.4 331.6 172.2 336.0 168.3C340.4 164.4 343.3 161.5 349.0 159.2C354.7 156.9 363.0 155.1 370.0 154.7C377.0 154.3 384.9 154.8 391.0 156.6C397.1 158.4 402.4 162.0 406.8 165.7C411.2 169.4 414.7 174.0 417.3 178.8C419.9 183.6 421.4 189.3 422.5 194.6C423.6 199.8 424.2 205.9 423.8 210.3C423.4 214.7 422.4 217.3 420.0 220.8C417.6 224.3 413.3 228.3 409.4 231.3C405.4 234.3 401.5 236.2 396.3 239.0C391.1 241.8 384.1 245.7 378.0 248.3C371.9 250.9 364.4 252.6 359.6 254.8C354.8 257.0 352.1 260.2 349.0 261.4C345.9 262.6 344.3 263.1 341.3 262.0C338.3 260.9 334.7 256.4 330.8 254.8C326.9 253.2 322.1 253.7 317.7 252.2C313.3 250.7 308.3 248.8 304.6 245.7C300.9 242.6 297.6 238.1 295.4 233.9C293.2 229.8 291.5 225.4 291.5 220.8Z" fill="#f6bcbc" fill-opacity="0.88" stroke="#3d3434" stroke-width="1.3"/><defs><clipPath id="thclip"><path d="M291.5 220.8C291.5 216.2 292.8 210.8 295.4 206.4C298.0 202.0 302.6 198.5 307.2 194.6C311.8 190.7 318.1 187.2 322.9 182.8C327.7 178.4 331.6 172.2 336.0 168.3C340.4 164.4 343.3 161.5 349.0 159.2C354.7 156.9 363.0 155.1 370.0 154.7C377.0 154.3 384.9 154.8 391.0 156.6C397.1 158.4 402.4 162.0 406.8 165.7C411.2 169.4 414.7 174.0 417.3 178.8C419.9 183.6 421.4 189.3 422.5 194.6C423.6 199.8 424.2 205.9 423.8 210.3C423.4 214.7 422.4 217.3 420.0 220.8C417.6 224.3 413.3 228.3 409.4 231.3C405.4 234.3 401.5 236.2 396.3 239.0C391.1 241.8 384.1 245.7 378.0 248.3C371.9 250.9 364.4 252.6 359.6 254.8C354.8 257.0 352.1 260.2 349.0 261.4C345.9 262.6 344.3 263.1 341.3 262.0C338.3 260.9 334.7 256.4 330.8 254.8C326.9 253.2 322.1 253.7 317.7 252.2C313.3 250.7 308.3 248.8 304.6 245.7C300.9 242.6 297.6 238.1 295.4 233.9C293.2 229.8 291.5 225.4 291.5 220.8Z"/></clipPath></defs><g fill="none" stroke="#6b4f4f" stroke-width="1" stroke-opacity="0.75" clip-path="url(#thclip)"><path d="M364.0 173.0C366.0 172.2 372.0 169.0 376.0 168.0C380.0 167.0 384.3 166.3 388.0 167.0C391.7 167.7 395.7 169.5 398.0 172.0C400.3 174.5 401.7 179.3 402.0 182.0C402.3 184.7 403.7 186.0 400.0 188.0C396.3 190.0 387.3 191.7 380.0 194.0C372.7 196.3 363.3 199.0 356.0 202.0C348.7 205.0 340.3 209.5 336.0 212.0C331.7 214.5 331.0 216.2 330.0 217.0"/><path d="M400.0 188.0C402.3 187.0 410.0 184.0 414.0 182.0C418.0 180.0 422.3 177.0 424.0 176.0"/><path d="M411.0 193.0C411.3 195.2 412.8 201.8 413.0 206.0C413.2 210.2 412.2 216.0 412.0 218.0"/><path d="M367.0 208.0C366.8 209.3 365.8 213.7 366.0 216.0C366.2 218.3 367.7 221.0 368.0 222.0"/><path d="M315.0 169.7C316.3 171.7 320.6 177.8 323.0 181.5C325.4 185.2 329.1 188.1 329.5 192.0C329.9 195.9 326.8 201.1 325.5 205.0C324.2 208.9 322.2 213.8 321.6 215.5"/><path d="M288.0 223.0C291.2 222.3 301.4 219.9 307.0 218.7C312.6 217.4 316.3 216.7 321.6 215.5C326.9 214.3 335.8 212.2 338.6 211.6"/><path d="M321.6 218.0C323.6 219.3 329.7 222.9 333.4 226.0C337.1 229.1 341.1 233.2 343.9 236.5C346.7 239.8 349.0 244.4 350.0 246.0"/><path d="M299.0 228.6C301.2 229.5 307.6 230.8 312.0 233.9C316.4 237.0 323.2 244.8 325.5 247.0"/><path d="M324.0 184.0C324.7 186.7 327.5 195.7 328.0 200.0C328.5 204.3 327.2 208.3 327.0 210.0"/></g><path d="M334.8 254.0C334.7 252.5 335.6 251.1 337.0 249.0C338.4 246.9 339.8 244.2 343.2 241.3C346.6 238.4 352.4 235.2 357.3 231.5C362.2 227.8 368.0 222.6 372.7 218.8C377.4 215.1 381.1 211.3 385.3 209.0C389.5 206.7 395.2 205.0 398.0 204.8C400.8 204.6 402.0 205.7 402.0 207.6C402.0 209.5 400.6 212.7 398.0 216.0C395.4 219.3 390.0 224.0 386.7 227.3C383.4 230.6 381.6 233.2 378.3 236.0C375.0 238.8 371.2 241.4 367.0 244.0C362.8 246.6 357.2 249.2 353.0 251.5C348.8 253.8 344.6 256.4 342.0 257.5C339.4 258.6 338.8 258.6 337.6 258.0C336.4 257.4 334.9 255.5 334.8 254.0Z" fill="#c0f4cc" stroke="#444" stroke-width="1"/><path d="M344.5 252.8Q362 245 378 233.500" fill="none" stroke="#3c4f42" stroke-width="0.9"/><path d="M346 254.6Q363 247 378.500 235.500" fill="none" stroke="#fff" stroke-width="1.3" stroke-dasharray="3.2 2"/><defs><clipPath id="lowclip"><path d="M340 327L366.5 324.4L400 322L440 318L470 308L492 312L500 330L500 400L340 400Z"/></clipPath></defs><path d="M367.5 288.5C370.0 285.6 375.9 281.3 380.7 279.0C385.4 276.7 389.8 275.2 396.0 274.8C402.2 274.4 410.1 275.5 418.0 276.3C425.9 277.1 435.7 278.9 443.7 279.7C451.7 280.4 461.2 279.8 465.8 280.8C470.4 281.9 469.4 284.0 471.0 286.0C472.6 288.0 473.8 289.7 475.3 293.0C476.8 296.3 478.4 301.0 480.0 306.0C481.6 311.0 483.6 318.2 485.0 323.0C486.4 327.8 488.1 331.8 488.5 335.0C488.9 338.2 489.1 340.2 487.3 342.2C485.5 344.2 482.1 344.6 477.7 347.0C473.3 349.4 466.0 353.4 460.8 356.6C455.6 359.8 451.2 363.0 446.4 366.2C441.6 369.4 436.0 373.0 432.0 375.8C428.0 378.6 425.6 382.0 422.4 383.0C419.2 384.0 416.7 383.1 412.7 381.9C408.7 380.7 403.1 378.8 398.3 375.8C393.5 372.8 388.3 368.6 383.9 363.8C379.5 359.0 374.8 352.6 371.8 347.0C368.8 341.4 367.1 336.0 365.8 330.0C364.5 324.0 364.0 316.5 364.0 310.9C364.0 305.3 365.2 300.2 365.8 296.5C366.4 292.8 365.0 291.4 367.5 288.5Z" fill="#afe3f2" fill-opacity="1" clip-path="url(#lowclip)"/><g fill="none" stroke="#37694a" stroke-width="1.4" stroke-opacity="0.85"><path d="M351.3 262.4Q363.2 273.9 371.8 285.5"/><path d="M356.0 258.1Q368.3 269.8 376.8 281.9"/><path d="M361.0 254.3Q373.7 266.1 382.2 278.6"/><path d="M367.1 252.2Q380.1 264.1 388.4 276.9"/><path d="M373.1 250.0Q386.5 262.1 394.8 275.1"/><path d="M379.0 247.8Q393.0 260.8 401.4 275.2"/><path d="M384.7 244.9Q399.5 259.5 408.1 275.6"/><path d="M390.4 242.0Q405.9 258.2 414.9 276.1"/><path d="M396.1 239.1Q412.4 257.0 421.7 276.8"/><path d="M401.6 235.9Q418.8 255.7 428.5 277.7"/><path d="M407.1 232.6Q425.2 254.4 435.4 278.6"/><path d="M411.9 228.6Q431.3 252.7 442.3 279.5"/><path d="M416.3 223.9Q437.1 250.4 449.2 279.9"/><path d="M400.5 242.0C400.7 244.3 401.6 251.2 401.5 255.9C401.4 260.6 399.8 265.9 399.6 270.5C399.4 275.1 400.4 281.2 400.5 283.4" stroke-opacity="0.6"/><path d="M403.3 254.0C405.0 254.9 410.2 257.7 413.4 259.5C416.6 261.3 418.9 264.1 422.6 265.0C426.3 265.9 432.0 264.1 435.4 265.0C438.8 265.9 440.6 268.1 442.8 270.5C445.0 272.9 447.4 278.2 448.3 279.7" stroke-opacity="0.6"/><path d="M431.7 217.3Q436 226 433.5 240"/><path d="M439 224.7Q447 236 445.5 252"/><path d="M424 222Q431 232 440 250Q447 262 452 276"/><path d="M416 226Q428 246 443 278"/></g><g fill="none" stroke="#3d5e69" stroke-width="1.4" stroke-opacity="0.8"><path d="M367.1 293.0C393.0 276.8 440.6 279.2 472.7 288.7"/><path d="M365.1 302.2C393.1 287.2 443.6 289.5 477.3 297.8"/><path d="M364.1 311.5C393.5 298.2 445.9 300.2 480.5 307.7"/><path d="M364.9 321.0C395.2 309.1 448.5 310.9 483.4 317.6"/><path d="M365.9 330.3C397.0 320.1 451.2 321.6 486.3 327.6"/><path d="M369.1 339.3C400.0 330.9 453.6 332.0 488.1 337.6"/><path d="M372.5 348.0C401.2 339.8 450.5 341.1 482.2 344.7"/><path d="M378.0 355.7C402.9 346.8 445.7 348.5 473.1 349.6"/><path d="M383.6 363.3C404.7 354.0 440.9 355.9 464.1 354.7"/><path d="M390.7 369.5C407.8 360.8 436.8 362.7 455.3 360.3"/><path d="M398.0 375.5C410.9 367.6 432.8 369.5 446.7 366.0"/><path d="M406.6 379.3C415.1 373.5 429.2 374.9 438.0 371.8"/></g><g fill="none" stroke="#1c3d49" stroke-width="1.4" clip-path="url(#lowclip)"><path d="M367.1 293.0C393.0 276.8 440.6 279.2 472.7 288.7"/><path d="M365.1 302.2C393.1 287.2 443.6 289.5 477.3 297.8"/><path d="M364.1 311.5C393.5 298.2 445.9 300.2 480.5 307.7"/><path d="M364.9 321.0C395.2 309.1 448.5 310.9 483.4 317.6"/><path d="M365.9 330.3C397.0 320.1 451.2 321.6 486.3 327.6"/><path d="M369.1 339.3C400.0 330.9 453.6 332.0 488.1 337.6"/><path d="M372.5 348.0C401.2 339.8 450.5 341.1 482.2 344.7"/><path d="M378.0 355.7C402.9 346.8 445.7 348.5 473.1 349.6"/><path d="M383.6 363.3C404.7 354.0 440.9 355.9 464.1 354.7"/><path d="M390.7 369.5C407.8 360.8 436.8 362.7 455.3 360.3"/><path d="M398.0 375.5C410.9 367.6 432.8 369.5 446.7 366.0"/><path d="M406.6 379.3C415.1 373.5 429.2 374.9 438.0 371.8"/></g><path d="M383.5 300.0C383.7 298.6 384.9 296.2 386.3 295.3C387.7 294.4 391.8 293.8 394.0 293.5C396.2 293.2 398.6 292.5 403.0 292.9C407.4 293.3 420.6 295.1 427.0 296.5C433.4 297.9 444.6 302.4 451.0 303.7C457.4 305.0 470.3 305.6 475.0 306.0C479.7 306.4 484.4 304.8 486.0 306.5C487.6 308.2 488.5 316.8 487.0 318.5C485.5 320.2 479.8 319.4 475.0 319.3C470.2 319.2 457.4 319.3 451.0 318.0C444.6 316.7 431.8 311.2 427.0 309.7C422.2 308.2 418.6 306.7 415.0 306.5C411.4 306.3 403.2 307.7 400.0 308.0C396.8 308.3 393.0 308.8 391.0 308.5C389.0 308.2 386.0 307.1 385.0 306.0C384.0 304.9 383.3 301.4 383.5 300.0Z" fill="#f1dfd4" fill-opacity="0.92" stroke="#8a8580" stroke-width="0.9"/><ellipse cx="386" cy="301.300" rx="1.8" ry="5" fill="none" stroke="#8a8580" stroke-width="0.8" transform="rotate(8 386 301.3)"/><g fill="none" stroke="#2a2a2a" stroke-width="1.05"><path d="M457.0 364.0C457.4 364.8 458.8 366.5 460.0 370.0C461.2 373.5 464.5 384.7 466.0 390.0C467.5 395.3 469.7 406.0 471.0 410.0C472.3 414.0 474.3 417.3 476.0 420.0C477.7 422.7 482.1 428.1 484.0 430.0C485.9 431.9 487.4 431.7 490.0 434.4C492.6 437.1 499.3 444.7 503.2 450.0C507.1 455.3 517.1 470.6 519.2 473.8"/><path d="M470.0 352.0C470.5 353.3 472.1 358.0 474.0 362.0C475.9 366.0 481.1 376.7 484.0 382.0C486.9 387.3 492.8 397.2 496.0 402.0C499.2 406.8 505.3 414.1 508.0 418.0C510.7 421.9 513.1 426.4 516.3 431.0C519.5 435.6 527.8 447.2 532.0 452.7C536.2 458.2 545.8 469.6 547.9 472.2"/><path d="M457.0 364.0C456.6 364.6 457.1 364.4 454.0 368.0C450.9 371.6 439.3 384.1 436.0 388.0C432.7 391.9 432.0 392.5 432.0 394.0C432.0 395.5 433.8 396.4 436.0 398.0C438.2 399.6 443.7 403.2 447.0 405.0C450.3 406.8 454.6 408.6 458.0 410.0C461.4 411.4 467.8 413.2 470.0 414.0C472.2 414.8 472.6 414.9 473.0 415.0"/></g><g fill="#f3f0ee" stroke="#5f5a57" stroke-width="0.9"><path d="M439.5 338Q438.8 332.500 443.5 332.3L467.5 350L461.5 357.500Z"/><path d="M447.5 332Q447.800 327.800 452.5 328.6L477.5 348L470.5 354.500Z"/><path d="M389 356.5Q389.800 352.600 394.5 353.2Q399.500 364 408.5 370.5Q416.500 376 426 378.5L426.5 382.8L422 384.2Q410.500 380.700 403 374.5Q394 367 389 356.5Z"/><path d="M433 395L447 405L450 408.5L432 420.5Q424.5 420 423 414Q424 410 430 407Z"/><path d="M450 381L456 375L460 376L457 381L462 383L458 385.500L464 388L460 391.500L453 390L449 384.500Z"/></g><g fill="none" stroke="#5f5a57" stroke-width="0.8"><path d="M442 335L464 353.500"/><path d="M450.500 331L473.500 350.500"/><path d="M436 399L438 405M440 401.500L442 407.500"/><ellipse cx="427.500" cy="416" rx="3" ry="4" transform="rotate(-35 427.500 416)"/></g><defs><clipPath id="ovclip"><path d="M478.0 296.0C474.3 297.5 467.7 308.3 464.0 316.0C460.3 323.7 456.5 333.0 456.0 342.0C455.5 351.0 457.7 361.7 461.0 370.0C464.3 378.3 469.5 387.0 476.0 392.0C482.5 397.0 493.0 400.0 500.0 400.0C507.0 400.0 517.2 396.3 518.0 392.0C518.8 387.7 508.7 380.7 505.0 374.0C501.3 367.3 498.5 359.0 496.0 352.0C493.5 345.0 491.7 339.5 490.0 332.0C488.3 324.5 488.0 313.0 486.0 307.0C484.0 301.0 481.7 294.5 478.0 296.0Z"/></clipPath></defs><path d="M478.0 296.0C474.3 297.5 467.7 308.3 464.0 316.0C460.3 323.7 456.5 333.0 456.0 342.0C455.5 351.0 457.7 361.7 461.0 370.0C464.3 378.3 469.5 387.0 476.0 392.0C482.5 397.0 493.0 400.0 500.0 400.0C507.0 400.0 517.2 396.3 518.0 392.0C518.8 387.7 508.7 380.7 505.0 374.0C501.3 367.3 498.5 359.0 496.0 352.0C493.5 345.0 491.7 339.5 490.0 332.0C488.3 324.5 488.0 313.0 486.0 307.0C484.0 301.0 481.7 294.5 478.0 296.0Z" fill="#f8ece6" fill-opacity="0.28" stroke="#bdb8b5" stroke-width="0.9" stroke-opacity="0.45"/><g fill="none" stroke="#b5b0ad" stroke-width="1.1" stroke-opacity="0.75" clip-path="url(#ovclip)"><path d="M446.0 295.5C448.2 295.2 454.9 294.6 459.4 293.7C463.8 292.9 468.3 291.3 472.8 290.4C477.2 289.5 481.7 289.2 486.2 288.4C490.6 287.5 495.1 285.8 499.5 285.1C504.0 284.3 508.5 284.6 512.9 283.9C517.4 283.1 521.8 281.3 526.3 280.7C530.8 280.1 535.2 280.6 539.7 280.1C544.2 279.7 548.6 278.3 553.1 277.9C557.5 277.5 562.0 278.2 566.5 277.8C570.9 277.3 575.4 275.7 579.8 275.3C584.3 275.0 588.8 275.8 593.2 275.6C597.7 275.3 602.2 274.0 606.6 273.8C611.1 273.7 617.8 274.6 620.0 274.7"/><path d="M446.0 303.1C448.2 302.4 454.9 299.8 459.4 299.0C463.8 298.1 468.3 298.7 472.8 297.9C477.2 297.2 481.7 295.4 486.2 294.5C490.6 293.6 495.1 293.6 499.5 292.8C504.0 292.0 508.5 290.4 512.9 289.7C517.4 289.0 521.8 289.0 526.3 288.3C530.8 287.7 535.2 286.1 539.7 285.7C544.2 285.2 548.6 286.0 553.1 285.6C557.5 285.2 562.0 283.6 566.5 283.2C570.9 282.8 575.4 283.5 579.8 283.2C584.3 283.0 588.8 281.9 593.2 281.6C597.7 281.4 602.2 281.9 606.6 281.7C611.1 281.6 617.8 280.8 620.0 280.6"/><path d="M446.0 308.5C448.2 308.3 454.9 307.9 459.4 307.0C463.8 306.2 468.3 304.1 472.8 303.3C477.2 302.4 481.7 302.6 486.2 301.8C490.6 301.0 495.1 299.2 499.5 298.4C504.0 297.7 508.5 298.0 512.9 297.4C517.4 296.7 521.8 295.1 526.3 294.4C530.8 293.8 535.2 294.0 539.7 293.6C544.2 293.2 548.6 292.2 553.1 291.9C557.5 291.6 562.0 292.1 566.5 291.7C570.9 291.4 575.4 290.1 579.8 289.8C584.3 289.5 588.8 290.2 593.2 289.9C597.7 289.6 602.2 288.3 606.6 288.1C611.1 287.8 617.8 288.4 620.0 288.4"/><path d="M446.0 315.8C448.2 315.2 454.9 312.9 459.4 312.1C463.8 311.3 468.3 311.8 472.8 311.0C477.2 310.2 481.7 308.1 486.2 307.3C490.6 306.5 495.1 307.0 499.5 306.3C504.0 305.6 508.5 303.6 512.9 303.0C517.4 302.3 521.8 303.0 526.3 302.5C530.8 302.0 535.2 300.6 539.7 300.0C544.2 299.4 548.6 299.4 553.1 298.9C557.5 298.4 562.0 297.3 566.5 297.1C570.9 296.9 575.4 297.9 579.8 297.7C584.3 297.5 588.8 296.0 593.2 295.8C597.7 295.6 602.2 296.7 606.6 296.6C611.1 296.4 617.8 295.0 620.0 294.7"/><path d="M446.0 321.2C448.2 321.0 454.9 320.7 459.4 320.0C463.8 319.2 468.3 317.5 472.8 316.7C477.2 315.8 481.7 315.6 486.2 314.7C490.6 313.9 495.1 312.2 499.5 311.5C504.0 310.8 508.5 311.1 512.9 310.5C517.4 310.0 521.8 308.9 526.3 308.4C530.8 307.9 535.2 308.2 539.7 307.6C544.2 307.0 548.6 305.4 553.1 304.9C557.5 304.5 562.0 305.2 566.5 304.9C570.9 304.6 575.4 303.4 579.8 303.1C584.3 302.9 588.8 303.5 593.2 303.4C597.7 303.3 602.2 302.7 606.6 302.6C611.1 302.4 617.8 302.5 620.0 302.5"/><path d="M446.0 329.0C448.2 328.4 454.9 326.4 459.4 325.5C463.8 324.6 468.3 324.4 472.8 323.7C477.2 322.9 481.7 321.6 486.2 320.8C490.6 320.1 495.1 319.8 499.5 319.1C504.0 318.4 508.5 317.2 512.9 316.6C517.4 316.0 521.8 315.9 526.3 315.4C530.8 314.8 535.2 313.7 539.7 313.2C544.2 312.8 548.6 313.2 553.1 312.8C557.5 312.4 562.0 311.1 566.5 311.0C570.9 310.8 575.4 311.8 579.8 311.7C584.3 311.5 588.8 310.3 593.2 310.1C597.7 309.8 602.2 310.2 606.6 310.1C611.1 310.0 617.8 309.4 620.0 309.3"/><path d="M446.0 334.3C448.2 334.1 454.9 333.6 459.4 332.9C463.8 332.1 468.3 330.7 472.8 329.9C477.2 329.1 481.7 329.2 486.2 328.3C490.6 327.5 495.1 325.5 499.5 324.8C504.0 324.2 508.5 325.1 512.9 324.5C517.4 323.9 521.8 321.9 526.3 321.3C530.8 320.7 535.2 321.2 539.7 320.8C544.2 320.5 548.6 319.5 553.1 319.2C557.5 318.8 562.0 319.1 566.5 318.8C570.9 318.5 575.4 317.4 579.8 317.2C584.3 316.9 588.8 317.6 593.2 317.4C597.7 317.2 602.2 316.1 606.6 316.1C611.1 316.0 617.8 316.9 620.0 317.0"/><path d="M446.0 341.7C448.2 341.2 454.9 339.5 459.4 338.7C463.8 337.9 468.3 337.8 472.8 337.0C477.2 336.2 481.7 334.5 486.2 333.9C490.6 333.2 495.1 333.8 499.5 333.1C504.0 332.4 508.5 330.6 512.9 329.9C517.4 329.3 521.8 329.7 526.3 329.3C530.8 328.8 535.2 327.7 539.7 327.2C544.2 326.8 548.6 326.9 553.1 326.5C557.5 326.0 562.0 324.8 566.5 324.7C570.9 324.5 575.4 325.6 579.8 325.5C584.3 325.4 588.8 324.3 593.2 324.1C597.7 323.8 602.2 324.3 606.6 324.1C611.1 324.0 617.8 323.1 620.0 322.9"/><path d="M446.0 347.7C448.2 347.5 454.9 347.3 459.4 346.4C463.8 345.5 468.3 343.3 472.8 342.6C477.2 341.8 481.7 342.5 486.2 341.8C490.6 341.2 495.1 339.5 499.5 338.8C504.0 338.1 508.5 338.3 512.9 337.7C517.4 337.0 521.8 335.6 526.3 335.0C530.8 334.5 535.2 334.8 539.7 334.3C544.2 333.9 548.6 332.5 553.1 332.3C557.5 332.1 562.0 333.3 566.5 333.1C570.9 332.9 575.4 331.2 579.8 331.0C584.3 330.8 588.8 332.0 593.2 331.9C597.7 331.7 602.2 330.4 606.6 330.3C611.1 330.2 617.8 331.2 620.0 331.4"/><path d="M446.0 355.0C448.2 354.4 454.9 352.4 459.4 351.5C463.8 350.7 468.3 350.7 472.8 350.0C477.2 349.3 481.7 348.1 486.2 347.4C490.6 346.7 495.1 346.5 499.5 345.8C504.0 345.1 508.5 343.7 512.9 343.2C517.4 342.7 521.8 343.2 526.3 342.8C530.8 342.4 535.2 341.2 539.7 340.9C544.2 340.5 548.6 340.9 553.1 340.5C557.5 340.2 562.0 338.8 566.5 338.6C570.9 338.4 575.4 339.6 579.8 339.4C584.3 339.3 588.8 337.8 593.2 337.6C597.7 337.3 602.2 338.1 606.6 338.0C611.1 338.0 617.8 337.3 620.0 337.1"/><path d="M446.0 360.5C448.2 360.2 454.9 359.6 459.4 358.8C463.8 358.0 468.3 356.4 472.8 355.7C477.2 355.0 481.7 355.3 486.2 354.6C490.6 354.0 495.1 352.6 499.5 351.9C504.0 351.3 508.5 351.3 512.9 350.7C517.4 350.2 521.8 348.9 526.3 348.5C530.8 348.2 535.2 348.9 539.7 348.6C544.2 348.3 548.6 347.1 553.1 346.8C557.5 346.5 562.0 346.9 566.5 346.7C570.9 346.4 575.4 345.5 579.8 345.3C584.3 345.1 588.8 345.9 593.2 345.8C597.7 345.6 602.2 344.4 606.6 344.3C611.1 344.1 617.8 344.8 620.0 344.9"/><path d="M446.0 367.6C448.2 367.2 454.9 365.8 459.4 365.1C463.8 364.4 468.3 364.3 472.8 363.6C477.2 362.9 481.7 361.6 486.2 360.8C490.6 360.1 495.1 359.7 499.5 359.1C504.0 358.4 508.5 357.4 512.9 357.0C517.4 356.5 521.8 356.7 526.3 356.3C530.8 355.9 535.2 354.8 539.7 354.4C544.2 354.0 548.6 354.3 553.1 354.0C557.5 353.8 562.0 353.2 566.5 353.0C570.9 352.7 575.4 352.8 579.8 352.7C584.3 352.5 588.8 351.8 593.2 351.8C597.7 351.8 602.2 352.7 606.6 352.7C611.1 352.7 617.8 352.0 620.0 351.8"/><path d="M446.0 373.7C448.2 373.5 454.9 373.1 459.4 372.4C463.8 371.7 468.3 370.1 472.8 369.4C477.2 368.7 481.7 369.1 486.2 368.3C490.6 367.6 495.1 365.7 499.5 365.1C504.0 364.5 508.5 365.1 512.9 364.6C517.4 364.2 521.8 362.9 526.3 362.5C530.8 362.1 535.2 362.6 539.7 362.2C544.2 361.8 548.6 360.3 553.1 360.1C557.5 359.8 562.0 360.7 566.5 360.6C570.9 360.5 575.4 359.5 579.8 359.3C584.3 359.2 588.8 359.8 593.2 359.7C597.7 359.6 602.2 358.8 606.6 358.7C611.1 358.7 617.8 359.3 620.0 359.4"/><path d="M446.0 381.0C448.2 380.5 454.9 378.7 459.4 378.0C463.8 377.2 468.3 377.0 472.8 376.3C477.2 375.6 481.7 374.4 486.2 373.9C490.6 373.3 495.1 373.8 499.5 373.2C504.0 372.7 508.5 371.1 512.9 370.6C517.4 370.1 521.8 370.5 526.3 370.0C530.8 369.5 535.2 368.1 539.7 367.7C544.2 367.4 548.6 368.3 553.1 368.1C557.5 367.9 562.0 366.7 566.5 366.4C570.9 366.2 575.4 366.9 579.8 366.8C584.3 366.8 588.8 366.1 593.2 366.0C597.7 366.0 602.2 366.3 606.6 366.3C611.1 366.2 617.8 365.9 620.0 365.9"/><path d="M446.0 386.2C448.2 386.0 454.9 386.0 459.4 385.4C463.8 384.7 468.3 383.0 472.8 382.3C477.2 381.6 481.7 381.7 486.2 381.1C490.6 380.5 495.1 379.3 499.5 378.8C504.0 378.2 508.5 378.4 512.9 377.9C517.4 377.4 521.8 376.1 526.3 375.8C530.8 375.5 535.2 376.2 539.7 375.9C544.2 375.5 548.6 374.0 553.1 373.6C557.5 373.3 562.0 373.9 566.5 373.8C570.9 373.7 575.4 372.8 579.8 372.8C584.3 372.8 588.8 373.9 593.2 373.8C597.7 373.8 602.2 372.6 606.6 372.5C611.1 372.4 617.8 373.2 620.0 373.4"/><path d="M446.0 394.3C448.2 393.7 454.9 391.8 459.4 391.1C463.8 390.3 468.3 390.4 472.8 389.8C477.2 389.2 481.7 388.0 486.2 387.3C490.6 386.7 495.1 386.6 499.5 386.0C504.0 385.5 508.5 384.4 512.9 383.9C517.4 383.4 521.8 383.6 526.3 383.1C530.8 382.7 535.2 381.6 539.7 381.4C544.2 381.2 548.6 382.0 553.1 381.8C557.5 381.7 562.0 380.6 566.5 380.5C570.9 380.4 575.4 381.2 579.8 381.1C584.3 381.0 588.8 379.7 593.2 379.7C597.7 379.6 602.2 380.7 606.6 380.7C611.1 380.7 617.8 379.9 620.0 379.7"/><path d="M446.0 399.3C448.2 399.1 454.9 399.0 459.4 398.4C463.8 397.8 468.3 396.4 472.8 395.8C477.2 395.2 481.7 395.4 486.2 394.8C490.6 394.2 495.1 392.6 499.5 392.1C504.0 391.6 508.5 392.3 512.9 391.7C517.4 391.2 521.8 389.5 526.3 389.1C530.8 388.6 535.2 389.2 539.7 388.9C544.2 388.7 548.6 387.7 553.1 387.5C557.5 387.3 562.0 388.0 566.5 387.8C570.9 387.7 575.4 386.7 579.8 386.6C584.3 386.6 588.8 387.5 593.2 387.6C597.7 387.6 602.2 386.9 606.6 386.9C611.1 386.9 617.8 387.7 620.0 387.8"/><path d="M446.0 406.8C448.2 406.4 454.9 404.9 459.4 404.3C463.8 403.7 468.3 404.1 472.8 403.4C477.2 402.7 481.7 400.9 486.2 400.2C490.6 399.5 495.1 399.8 499.5 399.2C504.0 398.6 508.5 397.2 512.9 396.8C517.4 396.5 521.8 397.6 526.3 397.2C530.8 396.9 535.2 395.0 539.7 394.7C544.2 394.4 548.6 395.6 553.1 395.5C557.5 395.4 562.0 394.2 566.5 394.1C570.9 393.9 575.4 394.6 579.8 394.5C584.3 394.5 588.8 394.0 593.2 394.0C597.7 394.0 602.2 394.4 606.6 394.4C611.1 394.3 617.8 393.8 620.0 393.7"/><path d="M446.0 412.5C448.2 412.3 454.9 411.7 459.4 411.1C463.8 410.5 468.3 409.5 472.8 409.0C477.2 408.4 481.7 408.3 486.2 407.6C490.6 407.0 495.1 405.6 499.5 405.0C504.0 404.5 508.5 404.8 512.9 404.5C517.4 404.1 521.8 403.2 526.3 402.9C530.8 402.6 535.2 403.0 539.7 402.8C544.2 402.5 548.6 401.5 553.1 401.4C557.5 401.2 562.0 402.0 566.5 401.9C570.9 401.9 575.4 401.0 579.8 401.0C584.3 401.0 588.8 402.0 593.2 402.0C597.7 402.0 602.2 401.1 606.6 401.0C611.1 401.0 617.8 401.6 620.0 401.7"/><path d="M446.0 419.9C448.2 419.4 454.9 417.6 459.4 416.9C463.8 416.2 468.3 416.4 472.8 415.8C477.2 415.2 481.7 414.0 486.2 413.5C490.6 413.1 495.1 413.6 499.5 413.1C504.0 412.5 508.5 410.9 512.9 410.4C517.4 409.9 521.8 410.6 526.3 410.3C530.8 410.0 535.2 408.8 539.7 408.6C544.2 408.4 548.6 409.3 553.1 409.2C557.5 409.1 562.0 407.9 566.5 407.8C570.9 407.7 575.4 408.7 579.8 408.7C584.3 408.7 588.8 407.9 593.2 408.0C597.7 408.0 602.2 408.7 606.6 408.7C611.1 408.8 617.8 408.5 620.0 408.4"/></g></g>
<g id="labels" fill="none" stroke-linecap="round" stroke-linejoin="round"><g stroke="#000"><path d="M425 209 Q445 197 463 192.8 Q468 192 470.2 196" stroke-width="4.8"/><path d="M519.5 273 L575.5 248.5" stroke-width="4.8"/><path d="M565 368.5 Q568 373 562.5 376.5 L532 399" stroke-width="4.8"/><path d="M468.5 194 L510.5 270.500 Q513 275.500 519.5 273" stroke-width="5.9"/><path d="M519.5 278.5 Q518 283 521 289 L565 369.5" stroke-width="5.9"/><path d="M516 276.5L535 267L520.5 281.5Z" fill="#000" stroke-width="0.6"/></g><g stroke="#ec1c24"><path d="M357 293.6 L338 304.5 Q331.500 308.5 333 314" stroke-width="4.4"/><path d="M338.5 356 L299.3 371.5" stroke-width="4.4"/><path d="M363 388.5 Q365 392.3 370.5 391.8 L393.5 390.4" stroke-width="4.4"/><path d="M333 313 L343.3 347 Q345.200 353.500 338.5 356" stroke-width="5.2"/><path d="M338.5 356 Q347.500 354.500 350.5 361 L363.2 389" stroke-width="5.2"/></g></g>
<text x="582.4" y="252.1" font-family="'Liberation Sans',sans-serif" font-size="27.4" fill="#000" stroke="#fff" stroke-width="0.4" textLength="158.5" lengthAdjust="spacingAndGlyphs">BRAINSTEM</text>
<text x="218.2" y="384.0" font-family="'Liberation Sans',sans-serif" font-size="27.4" fill="#000" stroke="#fff" stroke-width="0.4" textLength="74.7" lengthAdjust="spacingAndGlyphs">PONS</text>
</svg>
</body></html>
